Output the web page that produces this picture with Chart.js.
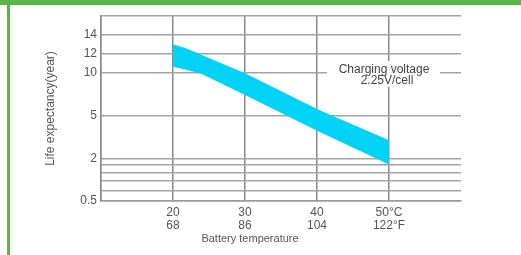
<!DOCTYPE html>
<html>
<head>
<meta charset="utf-8">
<script src="https://cdn.jsdelivr.net/npm/chart.js@4/dist/chart.umd.min.js"></script>
<style>
  body { margin: 0; background: #fff; }
  canvas { display: block; }
</style>
</head>
<body>
<canvas id="chartContainer" width="521" height="255"></canvas>
<script>
// battery temperature (C) where the band edges were read
var temps = [20, 21.7, 24, 30, 40.3, 50];
// life expectancy (years), top and bottom edge of the band
var lifeHigh = [13.0, 12.6, 11.9, 9.9, 5.7, 3.3];
var lifeLow = [10.6, 10.3, 9.8, 7.4, 3.9, 1.8];

// x axis ticks and their two label rows
var xTicks = [10, 20, 30, 40, 50, 60];
var celsiusLabels = ['', '20', '30', '40', '50°C', ''];
var fahrenheitLabels = ['', '68', '86', '104', '122°F', ''];

// y axis ticks (the printed axis is not linear nor log)
var yTickValues = [0.5, 2, 5, 10, 12, 14];
var yTickLabels = ['0.5', '2', '5', '10', '12', '14'];

// where each y tick sits on the drawn axis, plus the unlabeled lines
var yStops = [0, 42, 85, 128.7, 147, 166.7];
var yMinorStops = [10.7, 20.3, 28.3, 36.3];
var yTop = 185;

var font = '"Liberation Sans", Arial, sans-serif';
var textColor = '#555';

// value in years -> position on the drawn y axis
function toAxis(v) {
  var i = 0;
  while (i < yTickValues.length - 2 && v > yTickValues[i + 1]) i++;
  var v0 = yTickValues[i], v1 = yTickValues[i + 1];
  return yStops[i] + (v - v0) / (v1 - v0) * (yStops[i + 1] - yStops[i]);
}

function bandPoints(values) {
  return temps.map(function (t, i) { return { x: t, y: toAxis(values[i]) }; });
}

var decorations = {
  id: 'decorations',
  beforeDraw: function (chart) {
    var ctx = chart.ctx;
    ctx.save();
    ctx.fillStyle = '#fff';
    ctx.fillRect(0, 0, chart.width, chart.height);
    ctx.fillStyle = '#59b548';
    ctx.fillRect(0, 0, chart.width, 5);
    ctx.fillRect(7, 0, 3, chart.height);
    ctx.restore();
  },
  afterDatasetsDraw: function (chart) {
    var ctx = chart.ctx;
    ctx.save();
    // note box over the grid
    ctx.fillStyle = '#fff';
    ctx.fillRect(327, 61, 113, 26);
    ctx.fillStyle = '#444';
    ctx.font = '12px ' + font;
    ctx.textAlign = 'center';
    ctx.textBaseline = 'middle';
    ctx.fillText('Charging voltage', 384, 70);
    ctx.fillText('2.25V/cell', 387, 81);
    // x axis title
    ctx.fillStyle = textColor;
    ctx.font = '11px ' + font;
    ctx.fillText('Battery temperature', 250, 239);
    ctx.restore();
  }
};

window.onload = function () {
  var ctx = document.getElementById('chartContainer').getContext('2d');

  new Chart(ctx, {
    type: 'line',
    data: {
      datasets: [
        {
          label: 'upper',
          data: bandPoints(lifeHigh),
          fill: '+1',
          backgroundColor: '#00d3f5',
          borderColor: 'rgba(0,0,0,0)',
          borderWidth: 0,
          pointRadius: 0,
          tension: 0
        },
        {
          label: 'lower',
          data: bandPoints(lifeLow),
          fill: false,
          borderColor: 'rgba(0,0,0,0)',
          borderWidth: 0,
          pointRadius: 0,
          tension: 0
        }
      ]
    },
    options: {
      responsive: false,
      animation: false,
      layout: { padding: { left: 0, top: 16, right: 60, bottom: 0 } },
      plugins: { legend: { display: false }, tooltip: { enabled: false } },
      scales: {
        x: {
          type: 'linear',
          min: 10,
          max: 60,
          afterBuildTicks: function (scale) {
            scale.ticks = xTicks.map(function (v) { return { value: v }; });
          },
          afterFit: function (scale) { scale.height = 54; },
          ticks: {
            padding: 5,
            color: textColor,
            font: { family: font, size: 12, lineHeight: 1.1 },
            maxRotation: 0,
            callback: function (value) {
              var i = xTicks.indexOf(value);
              if (i < 0 || celsiusLabels[i] === '') return '';
              return [celsiusLabels[i], fahrenheitLabels[i]];
            }
          },
          grid: {
            drawTicks: false,
            lineWidth: 1.5,
            color: function (c) {
              return c.tick && c.tick.value === 60 ? 'rgba(0,0,0,0)' : '#8a8a8a';
            }
          },
          border: { color: '#9a9a9a', width: 1.5 }
        },
        y: {
          type: 'linear',
          min: 0,
          max: yTop,
          afterBuildTicks: function (scale) {
            var stops = yStops.concat(yMinorStops, [yTop]).sort(function (a, b) { return a - b; });
            scale.ticks = stops.map(function (v) { return { value: v }; });
          },
          afterFit: function (scale) { scale.width = 101; },
          ticks: {
            padding: 4,
            color: textColor,
            font: { family: font, size: 12 },
            callback: function (value) {
              var i = yStops.indexOf(value);
              return i < 0 ? '' : yTickLabels[i];
            }
          },
          grid: { drawTicks: false, lineWidth: 1.5, color: '#a3a3a3' },
          border: { color: '#8a8a8a', width: 1.5 },
          title: {
            display: true,
            text: 'Life expectancy(year)',
            color: '#555',
            font: { family: font, size: 12 },
            padding: { top: 43, bottom: 0 }
          }
        }
      }
    },
    plugins: [decorations]
  });
};
</script>
</body>
</html>
